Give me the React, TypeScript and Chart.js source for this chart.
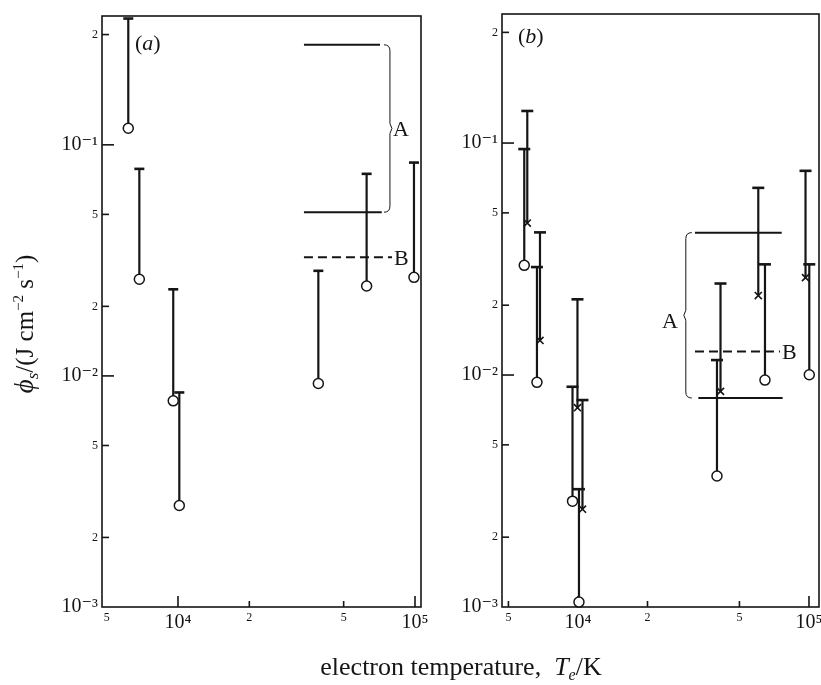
import React, { useEffect, useRef } from "react";
import { Chart, registerables } from "chart.js";

Chart.register(...registerables);

const SERIF = '"Liberation Serif", "DejaVu Serif", serif';
const INK = "#151515";

// ---------- shared axes ----------
const xTickValues = [5000, 10000, 20000, 50000, 100000];
const xTickLabels = ["5", "10⁴", "2", "5", "10⁵"];
const yTickValues = [0.001, 0.002, 0.005, 0.01, 0.02, 0.05, 0.1, 0.3];
const yTickLabels = ["10⁻³", "2", "5", "10⁻²", "2", "5", "10⁻¹", "2"];

// ---------- panel (a) ----------
const aTemps = [6170, 6870, 9550, 10130, 39100, 62500, 99000];
const aLower = [0.118, 0.0262, 0.0078, 0.00275, 0.00927, 0.0245, 0.0267];
const aUpper = [0.352, 0.0787, 0.0237, 0.00848, 0.0285, 0.0749, 0.0838];
const aLevelA = [0.271, 0.0511];
const aLevelTempsA = [[34000, 71200], [34000, 72400]];
const aLevelB = 0.0326;
const aLevelTempsB = [34000, 80000];
const aBracketTemp = 78400;
const aXRange = [4780, 106000];
const aYRange = [0.001, 0.361];

// ---------- panel (b) ----------
const bCircleTemps = [5855, 6645, 9470, 10100, 39970, 64490, 100300];
const bCircleLower = [0.0297, 0.0093, 0.00286, 0.00105, 0.00367, 0.00951, 0.01003];
const bCircleUpper = [0.0942, 0.0292, 0.0089, 0.00322, 0.0116, 0.03, 0.03];
const bCrossTemps = [6034, 6848, 9950, 10460, 41400, 60330, 96600];
const bCrossLower = [0.0452, 0.0141, 0.00723, 0.00264, 0.0085, 0.022, 0.0263];
const bCrossUpper = [0.1375, 0.0412, 0.0212, 0.0078, 0.0248, 0.0641, 0.0759];
const bLevelA = [0.0411, 0.00796];
const bLevelTempsA = [[32100, 76200], [33200, 76900]];
const bLevelB = 0.01262;
const bLevelTempsB = [32100, 74900];
const bBracketTemp = 29300;
const bXRange = [4690, 110500];
const bYRange = [0.001, 0.36];

type Part = { t: string; size: number; italic?: boolean; dy?: number };

function fontOf(p: Part) {
  return `${p.italic ? "italic " : ""}${p.size}px ${SERIF}`;
}

function drawRich(ctx: CanvasRenderingContext2D, parts: Part[], x: number, y: number, align: "center" | "left") {
  ctx.textAlign = "left";
  ctx.textBaseline = "alphabetic";
  const widths = parts.map((p) => {
    ctx.font = fontOf(p);
    return ctx.measureText(p.t).width;
  });
  const total = widths.reduce((a, b) => a + b, 0);
  let cx = align === "center" ? x - total / 2 : x;
  parts.forEach((p, i) => {
    ctx.font = fontOf(p);
    ctx.fillText(p.t, cx, y + (p.dy || 0));
    cx += widths[i];
  });
}

function errorBar(t: number, lo: number, hi: number, marker: "circle" | "crossRot", capR: number) {
  const isCircle = marker === "circle";
  return {
    data: [
      { x: t, y: lo },
      { x: t, y: hi },
    ],
    showLine: true,
    borderColor: INK,
    borderWidth: 2.2,
    pointStyle: [marker, "line"],
    pointRadius: [5, capR],
    pointBackgroundColor: isCircle ? "#ffffff" : INK,
    pointBorderColor: INK,
    pointBorderWidth: [isCircle ? 1.5 : 1.6, 2.6],
    clip: false,
  };
}

function level(t1: number, t2: number, y: number, dashed: boolean) {
  return {
    data: [
      { x: t1, y },
      { x: t2, y },
    ],
    showLine: true,
    borderColor: INK,
    borderWidth: 2,
    borderDash: dashed ? [9, 5] : [],
    pointRadius: 0,
  };
}

type Panel = {
  name: string;
  width: number;
  datasets: any[];
  xRange: number[];
  yRange: number[];
  padding: { left: number; right: number; top: number; bottom: number };
  yWidth: number;
  levelA: number[];
  levelB: number;
  levelTempsB: number[];
  bracketTemp: number;
  dir: number;
  aDx: number;
  aDy: number;
  label: string;
  labelDx: number;
  labelDy: number;
  titles: boolean;
};

const panelA: Panel = {
  name: "a",
  width: 821,
  datasets: [
    ...aTemps.map((t, i) => errorBar(t, aLower[i], aUpper[i], "circle", 5)),
    level(aLevelTempsA[0][0], aLevelTempsA[0][1], aLevelA[0], false),
    level(aLevelTempsA[1][0], aLevelTempsA[1][1], aLevelA[1], false),
    level(aLevelTempsB[0], aLevelTempsB[1], aLevelB, true),
  ],
  xRange: aXRange,
  yRange: aYRange,
  padding: { left: 0, right: 400, top: 16, bottom: 38 },
  yWidth: 102,
  levelA: aLevelA,
  levelB: aLevelB,
  levelTempsB: aLevelTempsB,
  bracketTemp: aBracketTemp,
  dir: 1,
  aDx: 3,
  aDy: 0,
  label: "a",
  labelDx: 33,
  labelDy: 34,
  titles: true,
};

const panelB: Panel = {
  name: "b",
  width: 840,
  datasets: [
    ...bCircleTemps.map((t, i) => errorBar(t, bCircleLower[i], bCircleUpper[i], "circle", 6)),
    ...bCrossTemps.map((t, i) => errorBar(t, bCrossLower[i], bCrossUpper[i], "crossRot", 6)),
    level(bLevelTempsA[0][0], bLevelTempsA[0][1], bLevelA[0], false),
    level(bLevelTempsA[1][0], bLevelTempsA[1][1], bLevelA[1], false),
    level(bLevelTempsB[0], bLevelTempsB[1], bLevelB, true),
  ],
  xRange: bXRange,
  yRange: bYRange,
  padding: { left: 422, right: 21, top: 14, bottom: 38 },
  yWidth: 80,
  levelA: bLevelA,
  levelB: bLevelB,
  levelTempsB: bLevelTempsB,
  bracketTemp: bBracketTemp,
  dir: -1,
  aDx: -8,
  aDy: 5,
  label: "b",
  labelDx: 16,
  labelDy: 29,
  titles: false,
};

function decor(p: Panel) {
  return {
    id: "decor" + p.name,
    beforeDatasetsDraw(chart: any) {
      const { ctx, chartArea: ca } = chart;
      const xs = chart.scales.x;
      const ys = chart.scales.y;
      ctx.save();
      ctx.strokeStyle = INK;
      ctx.lineWidth = 1.6;
      ctx.strokeRect(ca.left, ca.top, ca.right - ca.left, ca.bottom - ca.top);
      yTickValues.forEach((v, i) => {
        const py = ys.getPixelForValue(v);
        if (py > ca.bottom - 3) return;
        const len = yTickLabels[i].startsWith("10") ? 12 : 7;
        ctx.beginPath();
        ctx.moveTo(ca.left, py);
        ctx.lineTo(ca.left + len, py);
        ctx.stroke();
      });
      xTickValues.forEach((v, i) => {
        const px = xs.getPixelForValue(v);
        if (px < ca.left + 6) return;
        const len = xTickLabels[i].startsWith("10") ? 11 : 6;
        ctx.beginPath();
        ctx.moveTo(px, ca.bottom);
        ctx.lineTo(px, ca.bottom - len);
        ctx.stroke();
      });
      // bracket grouping the A levels
      const bx = xs.getPixelForValue(p.bracketTemp);
      const yTop = ys.getPixelForValue(p.levelA[0]);
      const yBot = ys.getPixelForValue(p.levelA[1]);
      const ym = (yTop + yBot) / 2;
      const d = p.dir;
      ctx.lineWidth = 1;
      ctx.beginPath();
      ctx.moveTo(bx - d * 6, yTop);
      ctx.quadraticCurveTo(bx, yTop, bx, yTop + 6);
      ctx.lineTo(bx, ym - 5);
      ctx.lineTo(bx + d * 2, ym);
      ctx.lineTo(bx, ym + 5);
      ctx.lineTo(bx, yBot - 6);
      ctx.quadraticCurveTo(bx, yBot, bx - d * 6, yBot);
      ctx.stroke();
      ctx.restore();
    },
    afterDraw(chart: any) {
      const { ctx, chartArea: ca } = chart;
      const xs = chart.scales.x;
      const ys = chart.scales.y;
      ctx.save();
      ctx.fillStyle = INK;
      const bx = xs.getPixelForValue(p.bracketTemp);
      const ym = (ys.getPixelForValue(p.levelA[0]) + ys.getPixelForValue(p.levelA[1])) / 2;
      ctx.font = `22px ${SERIF}`;
      ctx.textBaseline = "alphabetic";
      ctx.textAlign = p.dir > 0 ? "left" : "right";
      ctx.fillText("A", bx + p.aDx, ym + p.aDy + 7.5);
      ctx.textAlign = "left";
      const bxEnd = xs.getPixelForValue(p.levelTempsB[1]);
      const byB = ys.getPixelForValue(p.levelB);
      ctx.fillText("B", bxEnd + 2, byB + 7.5);
      drawRich(
        ctx,
        [
          { t: "(", size: 22 },
          { t: p.label, size: 22, italic: true },
          { t: ")", size: 22 },
        ],
        ca.left + p.labelDx,
        ca.top + p.labelDy,
        "left"
      );
      if (p.titles) {
        ctx.save();
        ctx.translate(33, 324);
        ctx.rotate(-Math.PI / 2);
        drawRich(
          ctx,
          [
            { t: "ϕ", size: 27, italic: true },
            { t: "s", size: 17, italic: true, dy: 5 },
            { t: "/(J cm", size: 25 },
            { t: "−2", size: 15, dy: -10 },
            { t: " s", size: 25 },
            { t: "−1", size: 15, dy: -10 },
            { t: ")", size: 25 },
          ],
          0,
          0,
          "center"
        );
        ctx.restore();
        drawRich(
          ctx,
          [
            { t: "electron temperature,  ", size: 26 },
            { t: "T", size: 26, italic: true },
            { t: "e", size: 16, italic: true, dy: 5 },
            { t: "/K", size: 26 },
          ],
          461,
          675,
          "center"
        );
      }
      ctx.restore();
    },
  };
}

function makeConfig(p: Panel): any {
  return {
    type: "scatter",
    data: { datasets: p.datasets },
    options: {
      responsive: false,
      animation: false,
      devicePixelRatio: 1,
      events: [],
      layout: { padding: p.padding },
      plugins: {
        legend: { display: false },
        tooltip: { enabled: false },
        title: { display: false },
      },
      scales: {
        x: {
          type: "logarithmic",
          min: p.xRange[0],
          max: p.xRange[1],
          afterBuildTicks: (s: any) => {
            s.ticks = xTickValues.map((v) => ({ value: v }));
          },
          afterFit: (s: any) => {
            s.height = 40;
            s.paddingLeft = 0;
            s.paddingRight = 0;
          },
          grid: { display: false, drawTicks: false },
          border: { display: false },
          ticks: {
            autoSkip: false,
            maxRotation: 0,
            minRotation: 0,
            padding: 4,
            color: INK,
            font: (c: any) => ({
              family: SERIF,
              size: (xTickLabels[c.index] || "").startsWith("10") ? 20 : 12,
            }),
            callback: (_v: any, i: number) => xTickLabels[i],
          },
        },
        y: {
          type: "logarithmic",
          min: p.yRange[0],
          max: p.yRange[1],
          afterBuildTicks: (s: any) => {
            s.ticks = yTickValues.map((v) => ({ value: v }));
          },
          afterFit: (s: any) => {
            s.width = p.yWidth;
            s.paddingTop = 0;
            s.paddingBottom = 0;
          },
          grid: { display: false, drawTicks: false },
          border: { display: false },
          ticks: {
            autoSkip: false,
            padding: 4,
            color: INK,
            font: (c: any) => ({
              family: SERIF,
              size: (yTickLabels[c.index] || "").startsWith("10") ? 20 : 12,
            }),
            callback: (_v: any, i: number) => yTickLabels[i],
          },
        },
      },
    },
    plugins: [decor(p)],
  };
}

export default function App() {
  const refA = useRef<HTMLCanvasElement>(null);
  const refB = useRef<HTMLCanvasElement>(null);
  useEffect(() => {
    const ca = new Chart(refA.current as HTMLCanvasElement, makeConfig(panelA));
    const cb = new Chart(refB.current as HTMLCanvasElement, makeConfig(panelB));
    return () => {
      ca.destroy();
      cb.destroy();
    };
  }, []);
  return (
    <div style={{ position: "absolute", left: 0, top: 0, width: 821, height: 685, background: "#ffffff", overflow: "hidden" }}>
      <canvas ref={refA} width={panelA.width} height={685} style={{ position: "absolute", left: 0, top: 0 }} />
      <canvas ref={refB} width={panelB.width} height={685} style={{ position: "absolute", left: 0, top: 0 }} />
    </div>
  );
}
